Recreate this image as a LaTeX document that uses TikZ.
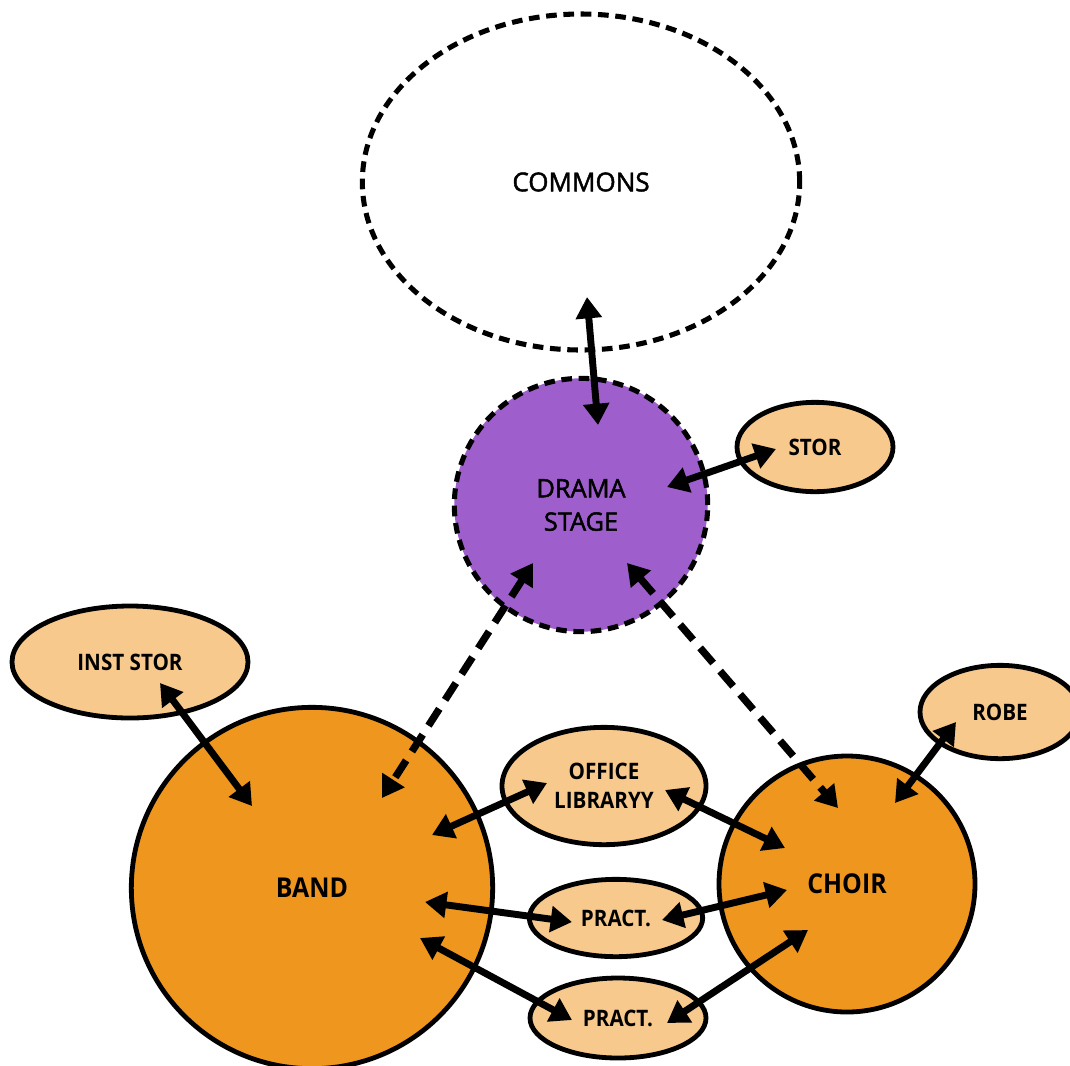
\documentclass[tikz,border=0pt]{standalone}
\usepackage{fontspec}
\setmainfont{Open Sans}
\newfontfamily\labelfont{Open Sans Bold}[FakeStretch=0.91]
\newfontfamily\hallfont{Open Sans}[FakeBold=1.8]
\usetikzlibrary{shapes.geometric,arrows.meta}
\definecolor{dramapurple}{HTML}{9E5FCC}
\definecolor{roomorange}{HTML}{EF961F}
\definecolor{storpeach}{HTML}{F7C98D}

\begin{document}
\begin{tikzpicture}[x=0.75pt, y=-0.75pt, >={Triangle[length=16pt,width=19pt]}]
    \tikzstyle{room}=[circle, draw=black, line width=3.6pt, inner sep=0pt, align=center]
    \tikzstyle{small}=[ellipse, draw=black, line width=3.6pt, fill=storpeach, inner sep=0pt, align=center, font=\labelfont\fontsize{17}{19}\selectfont]
    \tikzstyle{link}=[<->, line width=5.2pt]
    \tikzstyle{dlink}=[<->, line width=5.5pt, dash pattern=on 15pt off 8pt]

    \useasboundingbox (0,0) rectangle (1070,1065);

    % Define the rooms
    \node[ellipse, draw=black, line width=3.8pt, dash pattern=on 8pt off 5pt, minimum width=328pt, minimum height=252pt, font=\hallfont\fontsize{19.5}{22}\selectfont] (commons) at (581,182) {COMMONS};
    \node[room, fill=dramapurple, line width=3.8pt, dash pattern=on 8pt off 5pt, minimum size=190pt, font=\hallfont\fontsize{19}{25}\selectfont] (drama) at (581,505) {DRAMA\\STAGE};
    \node[room, fill=roomorange, minimum size=271pt, font=\labelfont\fontsize{20.5}{24}\selectfont] (band) at (312,888) {BAND};
    \node[room, fill=roomorange, minimum size=192pt, font=\labelfont\fontsize{20.5}{24}\selectfont] (choir) at (847,884) {CHOIR};

    % Storage and practice rooms
    \node[small, minimum width=117pt, minimum height=67pt] (stor) at (815,447) {STOR};
    \node[small, minimum width=177pt, minimum height=84pt] (inst) at (130,662) {INST STOR};
    \node[small, minimum width=120pt, minimum height=70pt] (robe) at (1000,712) {ROBE};
    \node[small, minimum width=153pt, minimum height=88pt, font=\labelfont\fontsize{17}{22}\selectfont] (office) at (604,786) {OFFICE\\LIBRARYY};
    \node[small, minimum width=130pt, minimum height=58pt] (pract1) at (616,918) {PRACT.};
    \node[small, minimum width=132pt, minimum height=60pt] (pract2) at (618,1018) {PRACT.};

    % Connect the rooms
    \draw[link] ([shift={(6,115)}]commons.center) -- ([shift={(17,-80)}]drama.center);
    \draw[link] ([shift={(86,-18)}]drama.center) -- ([shift={(-39,2)}]stor.center);
    \draw[dlink] ([shift={(-48,58)}]drama.center) -- ([shift={(70,-90)}]band.center);
    \draw[dlink] ([shift={(46,58)}]drama.center) -- ([shift={(-9,-76)}]choir.center);
    \draw[link] ([shift={(30,21)}]inst.center) -- ([shift={(-60,-82)}]band.center);
    \draw[link] ([shift={(-44,10)}]robe.center) -- ([shift={(48,-81)}]choir.center);

    \draw[link] ([shift={(120,-53)}]band.center) -- ([shift={(-57,-3)}]office.center);
    \draw[link] ([shift={(61,4)}]office.center) -- ([shift={(-62,-36)}]choir.center);
    \draw[link] ([shift={(113,14)}]band.center) -- ([shift={(-44,4)}]pract1.center);
    \draw[link] ([shift={(46,2)}]pract1.center) -- ([shift={(-60,6)}]choir.center);
    \draw[link] ([shift={(108,50)}]band.center) -- ([shift={(-46,2)}]pract2.center);
    \draw[link] ([shift={(49,5)}]pract2.center) -- ([shift={(-39,46)}]choir.center);

\end{tikzpicture}
\end{document}
